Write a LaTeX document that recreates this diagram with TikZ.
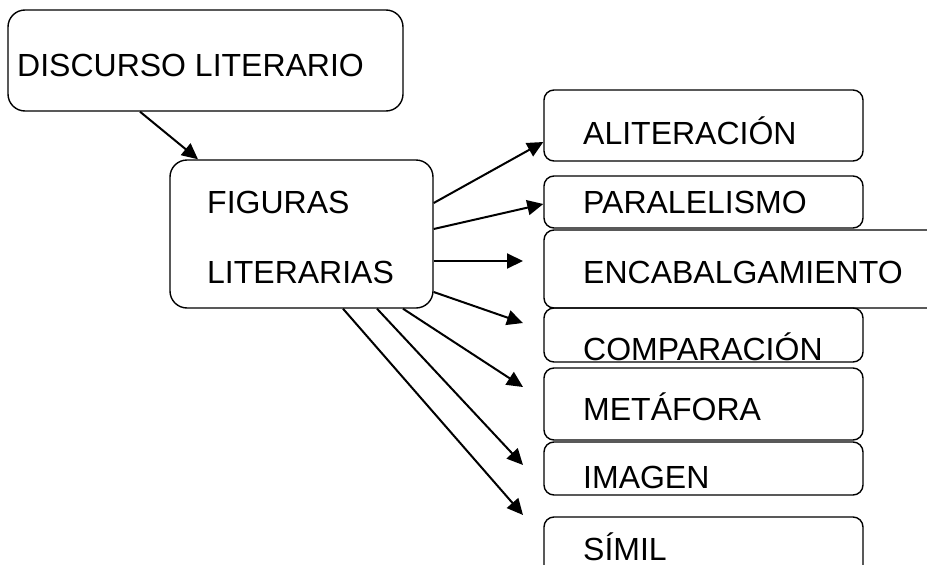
\documentclass[tikz,border=0pt]{standalone}
\usepackage{fontspec}
\setmainfont{Liberation Sans}
\usetikzlibrary{arrows.meta}
\begin{document}
\begin{tikzpicture}[x=1pt,y=-1pt,
  box/.style={draw, line width=1.4pt, rounded corners=10pt, inner sep=0pt},
  bigbox/.style={box, rounded corners=17pt},
  txt/.style={anchor=base west, inner sep=0pt, font=\fontsize{32}{38}\selectfont},
  arr/.style={line width=2pt, -{Triangle[length=16pt,width=15pt]}}]
\useasboundingbox (0,0) rectangle (927,565);
\clip (0,0) rectangle (927,565);
% boxes
\node[bigbox, minimum width=395pt, minimum height=101pt] (disc) at (205.5,60.5) {};
\node[bigbox, minimum width=263pt, minimum height=148pt] (fig) at (301.5,234) {};
\node[box, minimum width=319pt, minimum height=71pt] (ali) at (703.5,125.5) {};
\node[box, minimum width=319pt, minimum height=52pt] (par) at (703.5,202) {};
\node[box, minimum width=396pt, minimum height=78pt] (enc) at (742,269) {};
\node[box, minimum width=319pt, minimum height=54pt] (com) at (703.5,335) {};
\node[box, minimum width=319pt, minimum height=72pt] (met) at (703.5,404) {};
\node[box, minimum width=319pt, minimum height=53pt] (ima) at (703.5,468.5) {};
\node[box, minimum width=319pt, minimum height=65pt] (sim) at (703.5,549.5) {};
% texts
\node[txt] (disct) at (17,76) {DISCURSO LITERARIO};
\node[txt] (figt1) at (207,213) {FIGURAS};
\node[txt] (figt2) at (207,283) {LITERARIAS};
\node[txt] (alit) at (583,144) {ALITERACIÓN};
\node[txt] (part) at (583,213) {PARALELISMO};
\node[txt] (enct) at (583,283) {ENCABALGAMIENTO};
\node[txt] (comt) at (583,360) {COMPARACIÓN};
\node[txt] (mett) at (583,420) {METÁFORA};
\node[txt] (imat) at (583,488) {IMAGEN};
\node[txt] (simt) at (583,560) {SÍMIL};
% free arrow ends
\coordinate (eEnc) at (523,261);
\coordinate (eCom) at (523,323);
\coordinate (eMet) at (523,387);
\coordinate (eIma) at (523,465);
\coordinate (eSim) at (523,515);
% connectors
\draw[arr] ([xshift=-65.5pt]disc.south) -- ([xshift=-103.5pt]fig.north);
\draw[arr] ([yshift=31pt]fig.east) -- ([yshift=-16.5pt]ali.west);
\draw[arr] ([yshift=5pt]fig.east) -- ([yshift=-2pt]par.west);
\draw[arr] ([yshift=-27pt]fig.east) -- (eEnc);
\draw[arr] ([yshift=-58pt]fig.east) -- (eCom);
\draw[arr] ([xshift=101.5pt]fig.south) -- (eMet);
\draw[arr] ([xshift=75.5pt]fig.south) -- (eIma);
\draw[arr] ([xshift=41.5pt]fig.south) -- (eSim);
\end{tikzpicture}
\end{document}
